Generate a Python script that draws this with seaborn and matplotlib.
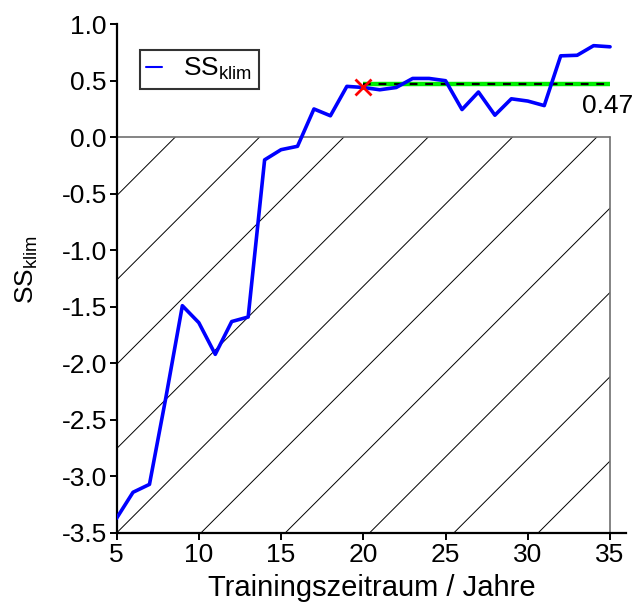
import numpy as np
import pandas as pd
import matplotlib
matplotlib.use("Agg")
import matplotlib.pyplot as plt
import matplotlib.patches as mpatches
import seaborn as sns

# ---- data ----
years = [5, 6, 7, 8, 9, 10, 11, 12, 13, 14, 15, 16, 17, 18, 19, 20,
         21, 22, 23, 24, 25, 26, 27, 28, 29, 30, 31, 32, 33, 34, 35]
ss_klim = [-3.37, -3.14, -3.07, -2.30, -1.49, -1.64, -1.92, -1.63, -1.59,
           -0.20, -0.11, -0.08, 0.25, 0.19, 0.45, 0.44, 0.42, 0.44, 0.52,
           0.52, 0.50, 0.245, 0.40, 0.195, 0.34, 0.32, 0.28, 0.72, 0.725,
           0.81, 0.80]
mean_start = 20
mean_end = 35
mean_value = 0.47
mean_label = "0.47"
marker_year = 20
marker_value = 0.44
xticks = [5, 10, 15, 20, 25, 30, 35]
yticks = [1.0, 0.5, 0.0, -0.5, -1.0, -1.5, -2.0, -2.5, -3.0, -3.5]

df = pd.DataFrame({"Jahre": years, "SS": ss_klim})

sns.set_style("white")
plt.rcParams["font.family"] = ["Liberation Sans", "DejaVu Sans"]
plt.rcParams["mathtext.default"] = "regular"
plt.rcParams["axes.unicode_minus"] = False
plt.rcParams["text.color"] = "black"
plt.rcParams["axes.labelcolor"] = "black"
plt.rcParams["xtick.color"] = "black"
plt.rcParams["ytick.color"] = "black"

fig = plt.figure(figsize=(6.37, 6.06), dpi=100)
ax = fig.add_axes([0.183, 0.1205, 0.8005, 0.8396])

xmin, xmax = 5, 36
ymin, ymax = -3.5, 1.0
ax.set_xlim(xmin, xmax)
ax.set_ylim(ymin, ymax)

# hatched region (diagonal lines at 45 degrees in screen space)
fig_w_px = 6.37 * 100 * 0.8005
fig_h_px = 6.06 * 100 * 0.8396
px_per_x = fig_w_px / (xmax - xmin)
px_per_y = fig_h_px / (ymax - ymin)
slope = px_per_x / px_per_y
spacing = 84.3 / px_per_x
clip_rect = mpatches.Rectangle((5, -3.5), 30, 3.5, transform=ax.transData,
                               fill=False, edgecolor="none")
ax.add_patch(clip_rect)
for k in range(-12, 8):
    x0 = 5 + k * spacing
    xs = np.array([x0, x0 + 60])
    ys = -3.5 + slope * (xs - x0)
    ln, = ax.plot(xs, ys, color="black", lw=0.7, zorder=1)
    ln.set_clip_path(clip_rect)
ax.plot([5, 35], [0, 0], color="#707070", lw=1.2, zorder=1.5)
ax.plot([35, 35], [-3.5, 0], color="#707070", lw=1.2, zorder=1.5)

# mean line
ax.plot([mean_start, mean_end], [mean_value, mean_value], color="#00ee00",
        lw=3.2, zorder=2, solid_capstyle="butt")
ax.plot([mean_start, mean_end], [mean_value, mean_value], color="black",
        lw=1.6, dashes=(3.5, 3.5), zorder=2.1)

sns.lineplot(data=df, x="Jahre", y="SS", ax=ax, color="#0000ff", lw=2.6,
             label=r"SS$_{klim}$", zorder=3)

ax.plot([marker_year], [marker_value], marker="x", color="#ff0000",
        markersize=11, mew=2, zorder=4, linestyle="none")

ax.text(33.3, 0.28, mean_label, fontsize=19, ha="left", va="center",
        color="black")

# axes styling
for s in ["top", "right"]:
    ax.spines[s].set_visible(False)
for s in ["left", "bottom"]:
    ax.spines[s].set_linewidth(1.6)
    ax.spines[s].set_color("black")
ax.set_xticks(xticks)
ax.set_yticks(yticks)
ax.set_yticklabels([f"{v:.1f}" for v in yticks])
ax.tick_params(axis="both", direction="out", length=5, width=1.4,
               labelsize=19, pad=2, colors="black", labelcolor="black",
               left=True, bottom=True)
ax.set_xlabel("Trainingszeitraum / Jahre", fontsize=21, labelpad=5,
              color="black")
ax.set_ylabel(r"SS$_{klim}$", fontsize=19, color="black")
ax.yaxis.set_label_coords(-0.150, 0.518)

leg = ax.legend(loc="upper left", bbox_to_anchor=(0.045, 0.95), fontsize=19,
                frameon=True, fancybox=False, handlelength=0.6,
                handletextpad=0.8, borderpad=0.25, borderaxespad=0)
leg.get_frame().set_edgecolor("black")
leg.get_frame().set_linewidth(1.5)
for h in leg.get_lines():
    h.set_linewidth(1.5)
for t in leg.get_texts():
    t.set_color("black")

fig.savefig("out.png", dpi=100)
